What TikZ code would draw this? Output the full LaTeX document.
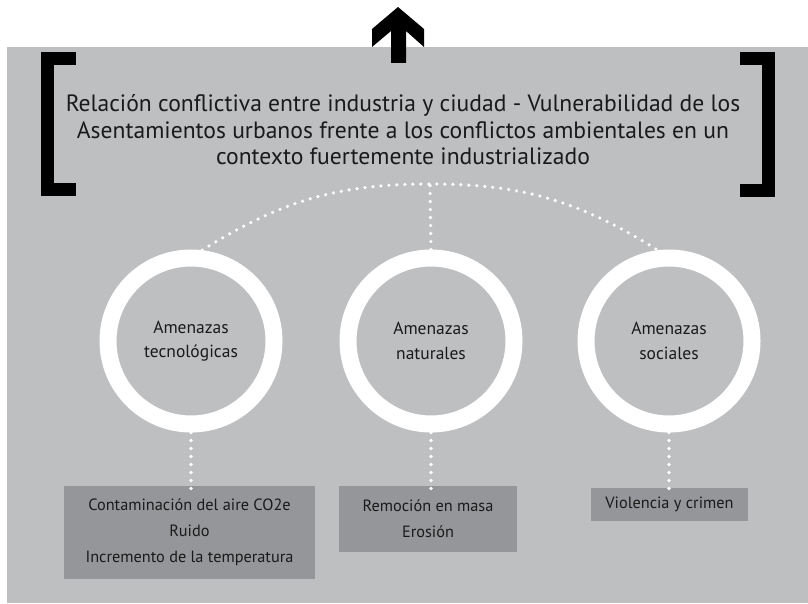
\documentclass[tikz,border=0pt]{standalone}
\usepackage{fontspec}
\setmainfont{PT Sans}
\usepackage{xcolor}

\definecolor{bggray}{RGB}{190,191,193}
\definecolor{boxgray}{RGB}{149,150,153}
\definecolor{inkgray}{RGB}{26,26,26}

\tikzset{
  titletext/.style={align=center, text=inkgray, font=\fontsize{23.6}{26.5}\selectfont},
  ring/.style={circle, draw=white, line width=17pt, minimum size=166pt,
    inner sep=0pt, align=center, text=inkgray, font=\fontsize{17.5}{24.5}\selectfont},
  effbox/.style={anchor=north, fill=boxgray, inner sep=0pt, align=center,
    text=inkgray, font=\fontsize{16.3}{26}\selectfont},
  dotline/.style={white, line width=3.6pt, line cap=round, dash pattern=on 0pt off 8pt},
  bracket/.style={line width=13pt, line cap=butt, line join=miter}
}

\begin{document}
\begin{tikzpicture}[x=1pt,y=1pt]
  \useasboundingbox (0,0) rectangle (808,603);
  \fill[bggray] (7,0) rectangle (808,556);
  \fill (398,596) coordinate (tip) -- ++(26,-22) -- ++(0,-18) -- ++(-18,16)
    -- ++(0,-32) -- ++(-15,0) -- ++(0,32) -- ++(-19,-16) -- ++(0,18) -- cycle;
  \draw[bracket] (76,544.5) -- ++(-29,0) -- ++(0,-131.5) -- ++(29,0);
  \draw[bracket] (740,544.5) -- ++(28,0) -- ++(0,-132.5) -- ++(-28,0);

  \node[titletext] (title) at (403,473)
    {Relación conflictiva entre industria y ciudad - Vulnerabilidad de los\\
     Asentamientos urbanos frente a los conflictos ambientales en un\\
     contexto fuertemente industrializado};

  \node[ring] (tec) at (191,262) {Amenazas\\tecnológicas};
  \node[ring] (nat) at (431,262) {Amenazas\\naturales};
  \node[ring] (soc) at (669,262) {Amenazas\\sociales};
  \coordinate (apex) at (430,419);

  \node[effbox, minimum width=251pt, minimum height=93pt] (tecbox) at (189.5,117)
    {Contaminación del aire CO2e\\Ruido\\Incremento de la temperatura};
  \node[effbox, minimum width=178pt, minimum height=66pt] (natbox) at (428,117)
    {Remoción en masa\\Erosión};
  \node[effbox, minimum width=157pt, minimum height=33pt] (socbox) at (669.5,115)
    {Violencia y crimen};

  \draw[dotline] (tec.83) to[out=32,in=180] (apex) to[out=0,in=148] (soc.97);
  \draw[dotline] (nat.north) -- (apex);
  \draw[dotline] (tec.south) -- ([yshift=-6pt]tec.south |- tecbox.north);
  \draw[dotline] (nat.south) -- ([yshift=-6pt]nat.south |- natbox.north);
  \draw[dotline] (soc.south) -- ([yshift=-6pt]soc.south |- socbox.north);
\end{tikzpicture}
\end{document}
